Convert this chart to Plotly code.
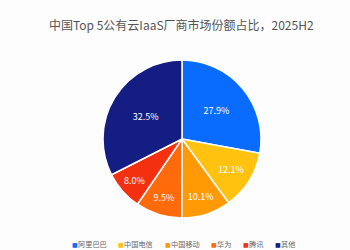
import plotly.graph_objects as go

labels = ["阿里巴巴", "中国电信", "中国移动", "华为", "腾讯", "其他"]
values = [27.9, 12.1, 10.1, 9.5, 8.0, 32.5]
colors = ["#0A6CFF", "#FFC20E", "#FF9A05", "#FF6A0A", "#F3300F", "#141E82"]
title = "中国Top 5公有云IaaS厂商市场份额占比，2025H2"

fig = go.Figure(go.Pie(
    labels=labels, values=values, sort=False, direction="clockwise", rotation=0,
    marker=dict(colors=colors, line=dict(color="white", width=1.5)),
    texttemplate="%{value:.1f}%", textposition="inside", insidetextorientation="horizontal",
    textfont=dict(color="white", size=9, family="Noto Sans CJK SC"),
    domain=dict(x=[0.294, 0.746], y=[0.128, 0.76]),
    hoverinfo="label+percent", showlegend=False,
))

# legend row built from the same label/colour arrays
W = 350.0
x = 70.0
font_px = 7.2
for lab, col in zip(labels, colors):
    fig.add_annotation(x=x / W, y=6 / 250, xref="paper", yref="paper", xanchor="left",
                       yanchor="middle", text="■", showarrow=False,
                       font=dict(size=6, color=col, family="DejaVu Sans"))
    fig.add_annotation(x=(x + 6) / W, y=6 / 250, xref="paper", yref="paper", xanchor="left",
                       yanchor="middle", text=lab, showarrow=False,
                       font=dict(size=font_px, color="#666666", family="Noto Sans CJK SC"))
    x += 6 + len(lab) * font_px + 11.5

fig.update_layout(
    width=350, height=250, margin=dict(l=0, r=0, t=0, b=0),
    paper_bgcolor="#FDFDFD", plot_bgcolor="#FDFDFD",
    title=dict(text=title, x=0.518, xanchor="center", y=0.895, yanchor="middle",
               font=dict(size=12, color="#555555", family="Noto Sans CJK SC")),
    font=dict(family="Noto Sans CJK SC"),
)
fig.write_html("out.html")
